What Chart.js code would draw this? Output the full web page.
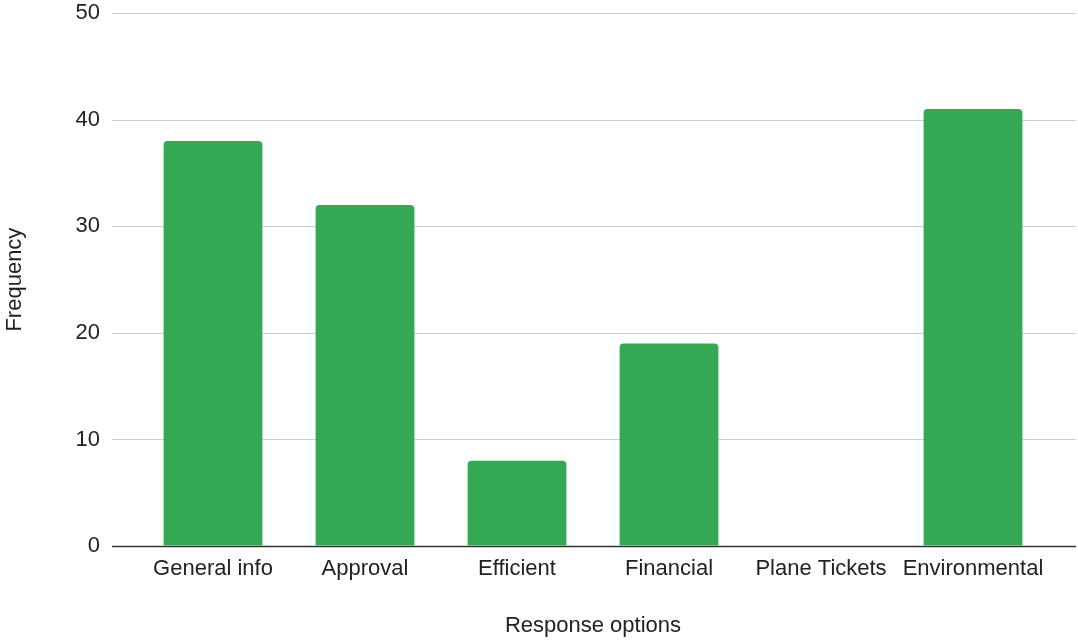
<!DOCTYPE html>
<html>
<head>
<meta charset="utf-8">
<script src="https://cdn.jsdelivr.net/npm/chart.js@4"></script>
<style>
  html, body { margin: 0; padding: 0; background: #fff; }
  #wrap { width: 1078px; height: 640px; }
</style>
</head>
<body>
<div id="wrap"><canvas id="chart"></canvas></div>
<script>
const categories = ['General info', 'Approval', 'Efficient', 'Financial', 'Plane Tickets', 'Environmental'];
const frequency = [38, 32, 8, 19, 0, 41];
const yTicks = [0, 10, 20, 30, 40, 50];

// horizontal grid lines run a bit past the category band, like in Sheets
const gridPlugin = {
    id: 'wideGrid',
    beforeDatasetsDraw(chart) {
        const ctx = chart.ctx;
        const y = chart.scales.y;
        ctx.save();
        y.ticks.forEach(t => {
            const py = Math.round(y.getPixelForValue(t.value)) + 0.5;
            ctx.beginPath();
            ctx.strokeStyle = t.value === 0 ? '#333333' : '#cccccc';
            ctx.lineWidth = t.value === 0 ? 1.5 : 1;
            ctx.moveTo(112, py);
            ctx.lineTo(1076, py);
            ctx.stroke();
        });
        ctx.restore();
    }
};

Chart.defaults.font.family = '"Liberation Sans", Arial, sans-serif';
Chart.defaults.font.size = 22;
Chart.defaults.color = '#222222';

new Chart(document.getElementById('chart'), {
    type: 'bar',
    data: {
        labels: categories,
        datasets: [{
            label: 'Frequency',
            data: frequency,
            backgroundColor: '#34a853',
            borderRadius: { topLeft: 4, topRight: 4 },
            borderSkipped: 'start',
            categoryPercentage: 1,
            barPercentage: 0.65
        }]
    },
    options: {
        responsive: true,
        maintainAspectRatio: false,
        animation: false,
        layout: { padding: { top: 0, right: 29, left: 0, bottom: 0 } },
        plugins: {
            legend: { display: false },
            tooltip: { enabled: false }
        },
        scales: {
            x: {
                grid: { display: false },
                border: { display: false },
                ticks: { padding: 2, maxRotation: 0, autoSkip: false },
                title: {
                    display: true,
                    text: 'Response options',
                    padding: { top: 0, bottom: 1 }
                },
                afterFit(scale) { scale.height = 94; }
            },
            y: {
                min: 0,
                max: 50,
                afterBuildTicks(scale) { scale.ticks = yTicks.map(v => ({ value: v })); },
                // invisible tick marks push labels left without adding top padding
                grid: { display: true, drawOnChartArea: false, drawTicks: true, tickLength: 37, tickColor: 'rgba(0,0,0,0)' },
                border: { display: false },
                ticks: { padding: 0 },
                title: {
                    display: true,
                    text: 'Frequency',
                    padding: { top: 2, bottom: 0 }
                },
                afterFit(scale) { scale.width = 137; }
            }
        }
    },
    plugins: [gridPlugin]
});
</script>
</body>
</html>
